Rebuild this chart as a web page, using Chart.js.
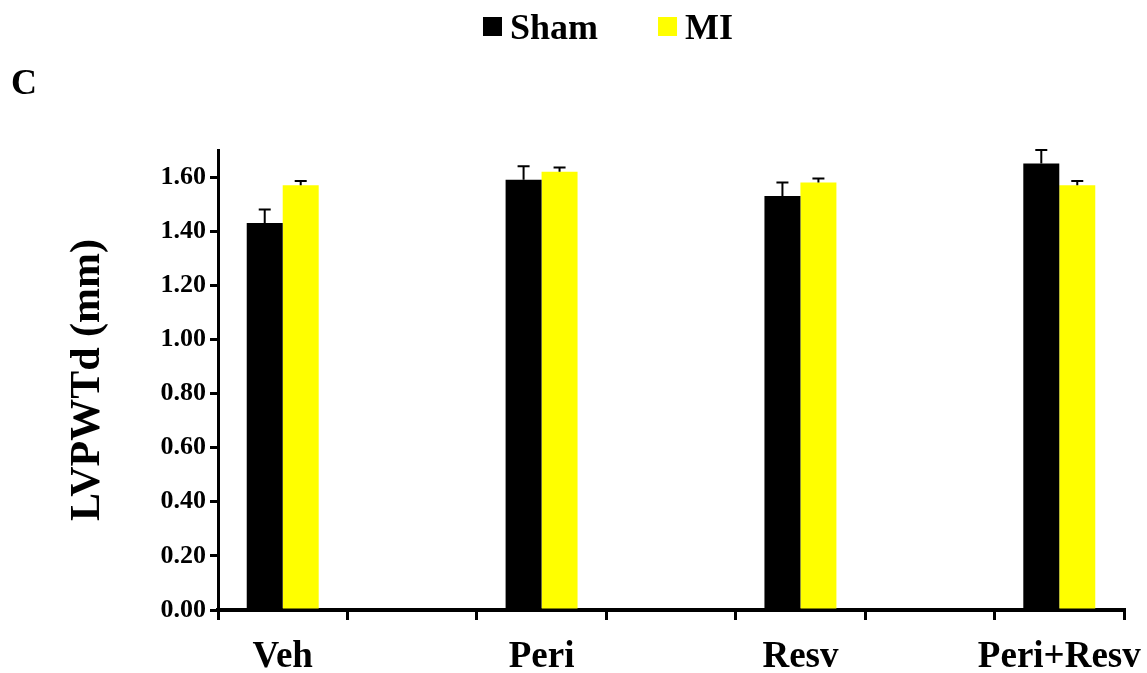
<!DOCTYPE html>
<html>
<head>
<meta charset="utf-8">
<script src="https://cdn.jsdelivr.net/npm/chart.js@4.4.1/dist/chart.umd.min.js"></script>
<style>
  html, body { margin: 0; padding: 0; background: #ffffff; }
  #wrap { width: 1147px; height: 673px; position: relative; }
</style>
</head>
<body>
<div id="wrap"><canvas id="chart" width="1147" height="673"></canvas></div>
<script>
// Groups and measurements (LVPWTd, mm)
const groups = ['Veh', 'Peri', 'Resv', 'Peri+Resv'];
const shamValues = [1.43, 1.59, 1.53, 1.65];
const shamErrors = [0.05, 0.05, 0.05, 0.05];
const miValues = [1.57, 1.62, 1.58, 1.57];
const miErrors = [0.015, 0.015, 0.015, 0.015];
const yTickValues = [0, 0.2, 0.4, 0.6, 0.8, 1.0, 1.2, 1.4, 1.6];
const panelLetter = 'C';
const yTitle = 'LVPWTd (mm)';

const FONT = '"Liberation Serif", "Times New Roman", serif';

// Each group is followed by an empty slot so the axis shows ticks between groups
const slotLabels = [];
const shamSlots = [];
const miSlots = [];
const shamErrSlots = [];
const miErrSlots = [];
groups.forEach((g, i) => {
  if (i > 0) {
    slotLabels.push('');
    shamSlots.push(null); miSlots.push(null);
    shamErrSlots.push(null); miErrSlots.push(null);
  }
  slotLabels.push(g);
  shamSlots.push(shamValues[i]); miSlots.push(miValues[i]);
  shamErrSlots.push(shamErrors[i]); miErrSlots.push(miErrors[i]);
});

// Upward error bars with a short cap
const errorBars = {
  id: 'errorBars',
  afterDatasetsDraw(chart) {
    const ctx = chart.ctx;
    const y = chart.scales.y;
    ctx.save();
    ctx.strokeStyle = '#000000';
    ctx.lineWidth = 2;
    chart.data.datasets.forEach((ds, di) => {
      const meta = chart.getDatasetMeta(di);
      meta.data.forEach((bar, i) => {
        const v = ds.data[i];
        const e = ds.errors[i];
        if (v == null || e == null) return;
        const top = y.getPixelForValue(v + e);
        const base = y.getPixelForValue(v);
        ctx.beginPath();
        ctx.moveTo(bar.x, base);
        ctx.lineTo(bar.x, top);
        ctx.moveTo(bar.x - 6, top);
        ctx.lineTo(bar.x + 6, top);
        ctx.stroke();
      });
    });
    ctx.restore();
  }
};

// Legend row and panel letter
const headerText = {
  id: 'headerText',
  afterDraw(chart) {
    const ctx = chart.ctx;
    ctx.save();
    ctx.font = 'bold 36px ' + FONT;
    ctx.textBaseline = 'alphabetic';
    ctx.fillStyle = '#000000';
    ctx.fillText(panelLetter, 11, 94);

    const box = 19, gapText = 8, gapItem = 60;
    const items = chart.data.datasets.map(ds => ({
      label: ds.label, color: ds.backgroundColor, w: ctx.measureText(ds.label).width
    }));
    let total = 0;
    items.forEach((it, k) => { total += box + gapText + it.w + (k ? gapItem : 0); });
    let x = 608 - total / 2;
    items.forEach((it, k) => {
      if (k) x += gapItem;
      ctx.fillStyle = it.color;
      ctx.fillRect(x, 17, box, box);
      x += box + gapText;
      ctx.fillStyle = '#000000';
      ctx.fillText(it.label, x, 39);
      x += it.w;
    });
    ctx.restore();
  }
};

new Chart(document.getElementById('chart'), {
  type: 'bar',
  data: {
    labels: slotLabels,
    datasets: [
      { label: 'Sham', data: shamSlots, errors: shamErrSlots, backgroundColor: '#000000' },
      { label: 'MI', data: miSlots, errors: miErrSlots, backgroundColor: '#FFFF00' }
    ]
  },
  options: {
    responsive: false,
    animation: false,
    devicePixelRatio: 1,
    layout: { padding: { top: 150, left: 59, right: 23, bottom: 0 } },
    datasets: { bar: { categoryPercentage: 0.556, barPercentage: 1.0, borderWidth: 0 } },
    plugins: {
      legend: { display: false },
      tooltip: { enabled: false }
    },
    scales: {
      x: {
        offset: true,
        border: { display: true, color: '#000000', width: 4 },
        grid: {
          offset: true, drawOnChartArea: false, drawTicks: true,
          tickLength: 10, color: '#000000', lineWidth: 3
        },
        ticks: {
          autoSkip: false, maxRotation: 0, minRotation: 0,
          color: '#000000', padding: 15,
          font: { family: FONT, size: 37, weight: 'bold' }
        },
        afterFit(scale) {
          scale.height = 63;
          scale.paddingLeft = 0;
          scale.paddingRight = 0;
        }
      },
      y: {
        min: 0, max: 1.7,
        border: { display: true, color: '#000000', width: 3 },
        grid: {
          drawOnChartArea: false, drawTicks: true,
          tickLength: 8, color: '#000000', lineWidth: 3
        },
        afterBuildTicks(scale) {
          scale.ticks = yTickValues.map(v => ({ value: v }));
        },
        ticks: {
          color: '#000000', padding: 4,
          font: { family: FONT, size: 26, weight: 'bold' },
          callback: v => Number(v).toFixed(2)
        },
        title: {
          display: true, text: yTitle, color: '#000000',
          font: { family: FONT, size: 42, weight: 'bold' },
          padding: { top: 4, bottom: 4 }
        },
        afterFit(scale) {
          scale.width = 159;
          scale.paddingTop = 0;
          scale.paddingBottom = 0;
        }
      }
    }
  },
  plugins: [errorBars, headerText]
});
</script>
</body>
</html>
